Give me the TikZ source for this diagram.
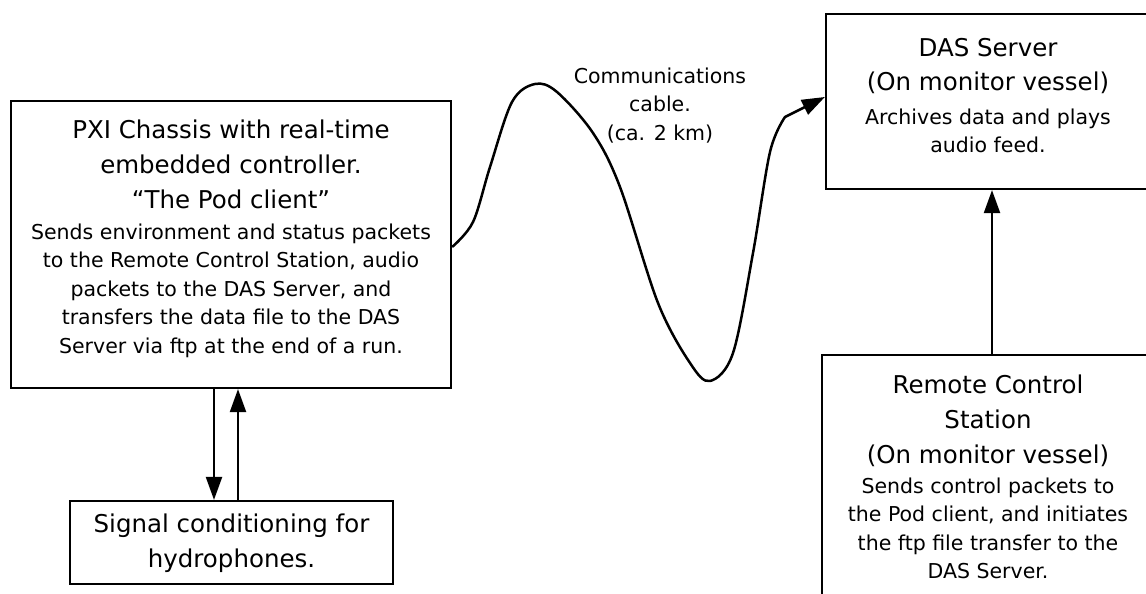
\documentclass[tikz,border=0pt]{standalone}
\usepackage{fontspec}
\setmainfont{DejaVu Sans}
\usetikzlibrary{arrows.meta}
\newcommand\ttlfont{\fontsize{24.5}{35}\selectfont}
\newcommand\dscfont{\fontsize{20.5}{28.5}\selectfont}
\begin{document}
\begin{tikzpicture}[x=1pt,y=-1pt,
  box/.style={draw, line width=2.2pt, inner sep=0pt, rectangle},
  ttl/.style={align=center, anchor=base, inner sep=0pt, font=\ttlfont},
  dsc/.style={align=center, anchor=base, inner sep=0pt, font=\dscfont},
  arr/.style={line width=2.2pt, -{Triangle[length=23pt,width=16pt]}},
  cable/.style={line width=2.5pt, line join=round, -{Triangle[length=23pt,width=16pt]}}]
\useasboundingbox (0,0) rectangle (1146,594);
\clip (0,0) rectangle (1146,594);
\fill[white] (0,0) rectangle (1146,594);
% boxes
\node[box, minimum width=440pt, minimum height=287pt] (pxi) at (231,244.5) {};
\node[box, minimum width=323pt, minimum height=83pt] (sig) at (231.5,542.5) {};
\node[box, minimum width=332pt, minimum height=175pt] (das) at (992,101.5) {};
\node[box, minimum width=340pt, minimum height=265pt] (rcs) at (992,487.5) {};
% texts (anchor base = baseline of the last line)
\node[ttl] (pxi-t) at (231,208) {PXI Chassis with real-time\\embedded controller.\\“The Pod client”};
\node[dsc] (pxi-d) at (231,353) {Sends environment and status packets\\to the Remote Control Station, audio\\packets to the DAS Server, and\\transfers the data file to the DAS\\Server via ftp at the end of a run.};
\node[ttl] (sig-t) at (231.5,567) {Signal conditioning for\\hydrophones.};
\node[ttl] (das-t) at (988,91) {DAS Server\\(On monitor vessel)};
\node[dsc] (das-d) at (988,152.5) {Archives data and plays\\audio feed.};
\node[ttl] (rcs-t) at (988,463) {Remote Control\\Station\\(On monitor vessel)};
\node[dsc] (rcs-d) at (988,578.5) {Sends control packets to\\the Pod client, and initiates\\the ftp file transfer to the\\DAS Server.};
\node[dsc] (cab-t) at (660,140) {Communications\\cable.\\(ca. 2 km)};
% connectors
\draw[arr] ([xshift=-17pt]pxi.south) -- ([xshift=-17pt]pxi.south |- sig.north);
\draw[arr] ([xshift=7pt]pxi.south |- sig.north) -- ([xshift=7pt]pxi.south);
\draw[arr] (rcs.north) -- (rcs.north |- das.south);
\coordinate (c-end) at ([yshift=4.5pt]das.west);
\draw[cable] plot[smooth, tension=0.55] coordinates {([yshift=-2.5pt]pxi.east) (473,222) (490,167) (512,102) (535,84) (557,92) (593,133) (620,187) (658,303) (690,363) (710,381) (733,353) (753,253) (770,152) (785,117)} -- (c-end);
\end{tikzpicture}
\end{document}
